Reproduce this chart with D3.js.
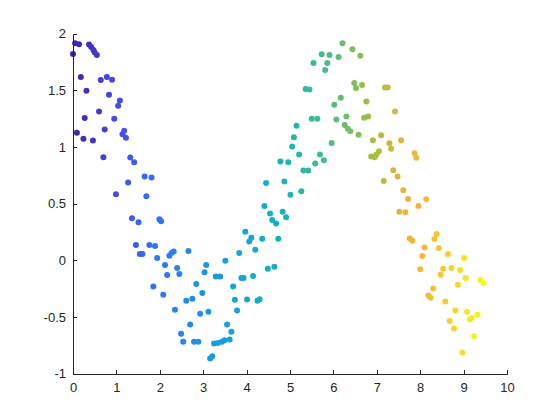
<!DOCTYPE html>
<html>
<head>
<meta charset="utf-8">
<script src="https://cdn.jsdelivr.net/npm/d3@7/dist/d3.min.js"></script>
<style>
html,body{margin:0;padding:0;background:#fff;}
svg{display:block;}
text{font-family:"Liberation Sans",Arial,Helvetica,sans-serif;}
</style>
</head>
<body>
<script>
const xs = [0,0.05,0.14,0.09,0.18,0.24,0.27,0.31,0.37,0.42,0.47,0.50,0.46,0.55,0.60,0.64,0.70,0.73,0.78,0.83,
0.90,0.95,0.99,1.04,1.08,1.14,1.18,1.22,1.27,1.32,1.36,1.41,1.45,1.51,1.54,1.60,1.65,1.69,1.76,1.81,
1.85,1.89,1.94,1.99,2.03,2.08,2.12,2.17,2.22,2.27,2.32,2.35,2.40,2.45,2.49,2.54,2.61,2.66,2.70,2.75,
2.79,2.84,2.89,2.93,2.98,3.03,3.07,3.12,3.16,3.21,3.25,3.29,3.34,3.39,3.43,3.49,3.51,3.55,3.61,3.65,
3.69,3.73,3.78,3.83,3.88,3.93,3.97,4.01,4.06,4.11,4.15,4.20,4.25,4.30,4.36,4.41,4.45,4.49,4.54,4.59,
4.64,4.68,4.73,4.78,4.83,4.87,4.91,4.96,5.01,5.05,5.09,5.15,5.21,5.26,5.31,5.36,5.42,5.45,5.50,5.54,
5.58,5.63,5.69,5.73,5.78,5.81,5.86,5.91,5.96,6.02,6.07,6.12,6.17,6.21,6.26,6.30,6.33,6.39,6.44,6.48,
6.52,6.58,6.62,6.66,6.71,6.76,6.80,6.87,6.91,6.95,6.99,7.05,7.10,7.16,7.19,7.25,7.29,7.33,7.38,7.42,
7.48,7.52,7.56,7.61,7.66,7.72,7.76,7.82,7.87,7.91,7.96,8.00,8.05,8.10,8.14,8.19,8.24,8.30,8.33,8.38,
8.43,8.47,8.53,8.58,8.64,8.68,8.72,8.78,8.81,8.87,8.92,8.97,9.01,9.05,9.08,9.14,9.19,9.24,9.32,9.39,9.46];
const ys = [1.82,1.915,1.906,1.125,1.617,1.072,1.254,1.494,1.903,1.88,1.854,1.833,1.055,1.81,1.312,1.59,0.908,1.154,1.617,1.459,
1.593,1.248,0.581,1.362,1.409,1.11,1.143,1.081,0.686,0.905,0.37,0.864,0.133,0.335,0.054,0.054,0.739,0.563,0.133,0.73,
-0.233,0.124,0.019,0.361,0.344,-0.306,-0.043,-0.131,0.039,0.063,0.077,-0.438,-0.069,-0.122,-0.649,-0.719,-0.359,0.08,-0.567,-0.341,
-0.719,-0.21,-0.719,-0.473,-0.289,-0.107,-0.043,-0.455,-0.868,-0.848,-0.736,-0.145,-0.73,-0.145,-0.719,-0.707,-0.005,-0.567,-0.701,-0.631,
-0.233,-0.35,-0.444,0.063,-0.157,-0.157,0.25,-0.347,0.165,0.197,-0.139,0.092,-0.359,-0.344,0.188,0.478,0.68,-0.075,0.411,0.355,
-0.057,0.323,0.188,0.87,0.428,0.695,0.379,0.864,0.578,1.002,1.084,1.186,0.932,0.607,0.791,1.511,0.791,1.505,1.248,1.74,
0.853,1.248,0.932,1.816,0.882,1.678,1.74,1.81,1.034,1.371,1.242,1.792,1.432,1.915,1.192,1.268,1.16,1.137,1.862,1.564,
1.52,1.107,1.804,1.546,1.257,1.4,1.268,0.914,1.058,0.908,0.932,0.961,1.102,0.698,1.523,1.523,1.031,0.982,0.794,1.312,
0.739,0.428,1.058,0.616,0.423,0.54,0.191,0.171,0.944,0.903,0.478,-0.081,0.036,0.112,0.537,-0.312,-0.332,-0.25,0.186,0.23,
0.107,-0.128,-0.075,-0.365,0.054,-0.537,-0.069,-0.602,-0.444,-0.218,-0.087,-0.818,0.019,-0.157,-0.458,-0.523,-0.511,-0.672,-0.482,-0.175,-0.204];
const xTicks = [0,1,2,3,4,5,6,7,8,9,10];
const yTicks = [-1,-0.5,0,0.5,1,1.5,2];
const yTickLabels = ["-1","-0.5","0","0.5","1","1.5","2"];

const cmapStops = [0,0.1,0.2,0.3,0.4,0.5,0.6,0.7,0.75,0.8,0.85,0.9,1];
const cmapColors = ["#3e26a8","#4748e6","#3272f8","#1f90e8","#17a4d8","#12b3bc","#3bbb98","#8cbf50","#b4bd38","#e6b43a","#f4b838","#f6c832","#f6f816"];

const W = 560, H = 420;
const svg = d3.select("body").append("svg").attr("width", W).attr("height", H);
const x = d3.scaleLinear().domain([0,10]).range([73, 507]);
const y = d3.scaleLinear().domain([-1,2]).range([373.5, 33.5]);
const xMin = d3.min(xs), xMax = d3.max(xs);
const cScale = d3.scaleLinear().domain(cmapStops.map(s=>xMin + s*(xMax-xMin))).range(cmapColors).interpolate(d3.interpolateRgb);

const g = svg.append("g");
g.selectAll("circle").data(xs.map((v,i)=>({x:v,y:ys[i]}))).enter().append("circle")
  .attr("cx", d=>x(d.x)).attr("cy", d=>y(d.y)).attr("r", 3)
  .attr("fill", d=>cScale(d.x));

const ax = svg.append("g").attr("transform", `translate(0,${y(-1)})`)
  .call(d3.axisBottom(x).tickValues(xTicks).tickSizeInner(-4).tickSizeOuter(0).tickPadding(9).tickFormat(d3.format("d")));
const ay = svg.append("g").attr("transform", `translate(${x(0)},0)`)
  .call(d3.axisLeft(y).tickValues(yTicks).tickSizeInner(-4).tickSizeOuter(0).tickPadding(7).tickFormat((d,i)=>yTickLabels[i]));
[ax, ay].forEach(a=>{
  a.selectAll("path,line").attr("stroke","#262626").attr("stroke-width",1).attr("shape-rendering","crispEdges");
  a.selectAll("text").attr("fill","#262626").style("font-size","13px").style("font-family","'Liberation Sans',Arial,Helvetica,sans-serif");
});
</script>
</body>
</html>
